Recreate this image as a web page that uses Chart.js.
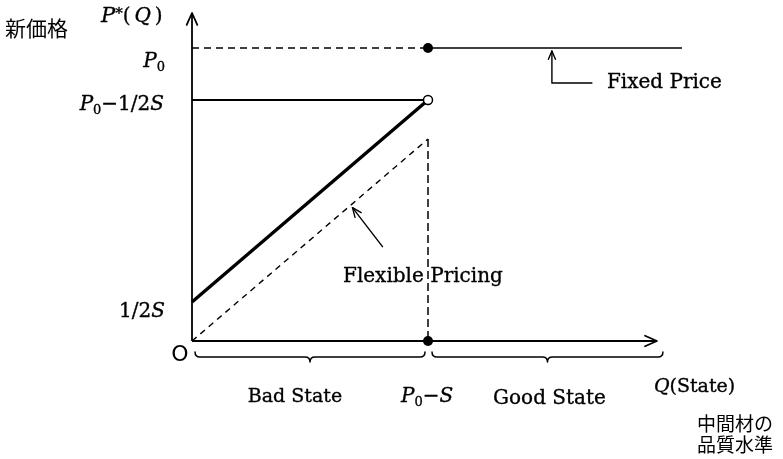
<!DOCTYPE html>
<html><head><meta charset="utf-8">
<script src="https://cdn.jsdelivr.net/npm/chart.js@4/dist/chart.umd.min.js"></script>
<style>html,body{margin:0;padding:0;background:#fff;overflow:hidden}#wrap{width:783px;height:459px;position:relative}</style>
</head><body><div id="wrap"><canvas id="c" width="783" height="459"></canvas></div>
<script>
// ---- values (abstract units) ----
const stateBreak = 10;                 // Q = P0 − S
const qAxisEnd = 19.7;                 // end of Q axis arrow
const fixedPriceEnd = 20.76;           // end of fixed price line
const priceAxisEnd = 16.4;             // end of P*(Q) axis arrow
const priceLevels = [14.65, 12.05, 1.95];          // P0, P0−1/2S, 1/2S
const tickLabelsY = ['P0', 'P0−1/2S', '1/2S'];
const flexiblePricing = [1.95, 12.05];             // thick line y at Q=0 and Q=P0−S
const flexibleLower = [0, 10.1];                   // dashed line y at Q=0 and Q=P0−S
const stateLabels = ['Bad State', 'Good State'];
const axisLabels = ['P*(Q)', 'Q(State)', '新価格', '中間材の', '品質水準'];
const notes = ['Fixed Price', 'Flexible Pricing'];

const P0 = priceLevels[0], P0h = priceLevels[1];

const black = '#000';
function ds(data, o) {
  return Object.assign({data, showLine: true, borderColor: black, backgroundColor: black,
    borderWidth: 1.5, pointRadius: 0, pointHoverRadius: 0, fill: false, tension: 0, clip: false}, o || {});
}

const datasets = [
  ds([{x: stateBreak, y: P0}, {x: stateBreak, y: 0}], {showLine: false, pointRadius: 5, pointBackgroundColor: black, pointBorderWidth: 0}),
  ds([{x: stateBreak, y: P0h}], {showLine: false, pointRadius: 4.5, pointBackgroundColor: '#fff', pointBorderColor: black, pointBorderWidth: 1.5}),
  ds([{x: 0, y: 0}, {x: 0, y: priceAxisEnd}], {borderWidth: 1.8}),
  ds([{x: 0, y: 0}, {x: qAxisEnd, y: 0}], {borderWidth: 1.8}),
  ds([{x: 0, y: P0}, {x: stateBreak, y: P0}], {borderDash: [7, 5], borderWidth: 1.5}),
  ds([{x: stateBreak, y: P0}, {x: fixedPriceEnd, y: P0}], {borderWidth: 1.5}),
  ds([{x: 0, y: P0h}, {x: stateBreak, y: P0h}], {borderWidth: 1.8}),
  ds([{x: 0, y: flexiblePricing[0]}, {x: stateBreak, y: flexiblePricing[1]}], {borderWidth: 3.4}),
  ds([{x: 0, y: flexibleLower[0]}, {x: stateBreak, y: flexibleLower[1]}], {borderDash: [6, 5], borderWidth: 1.4}),
  ds([{x: stateBreak, y: flexibleLower[1]}, {x: stateBreak, y: 0}], {borderDash: [8, 4], borderWidth: 1.5})
];

const SERIF = '"DejaVu Serif", "Liberation Serif", serif';
const CJK = '"Noto Sans CJK JP", sans-serif';

function rich(ctx, parts, x, y, align, noStroke) {
  // parts: [text, font, dy, extraSpacing]
  let w = 0;
  parts.forEach(p => { ctx.font = p[1]; w += ctx.measureText(p[0]).width + (p[3] || 0); });
  let cx = align === 'right' ? x - w : align === 'center' ? x - w / 2 : x;
  ctx.textBaseline = 'middle';
  ctx.textAlign = 'left';
  parts.forEach(p => {
    ctx.font = p[1];
    ctx.fillText(p[0], cx, y + (p[2] || 0));
    if (!noStroke) ctx.strokeText(p[0], cx, y + (p[2] || 0));
    cx += ctx.measureText(p[0]).width + (p[3] || 0);
  });
}

function vArrow(ctx, tx, ty, ang, len, spread) {
  ctx.beginPath();
  ctx.moveTo(tx - len * Math.cos(ang - spread), ty - len * Math.sin(ang - spread));
  ctx.lineTo(tx, ty);
  ctx.lineTo(tx - len * Math.cos(ang + spread), ty - len * Math.sin(ang + spread));
  ctx.stroke();
}

function brace(ctx, x1, x2, y) {
  const mid = (x1 + x2) / 2, r = 5;
  ctx.beginPath();
  ctx.moveTo(x1, y - 5);
  ctx.quadraticCurveTo(x1, y, x1 + r, y);
  ctx.lineTo(mid - r, y);
  ctx.quadraticCurveTo(mid, y, mid, y + 5);
  ctx.quadraticCurveTo(mid, y, mid + r, y);
  ctx.lineTo(x2 - r, y);
  ctx.quadraticCurveTo(x2, y, x2, y - 5);
  ctx.stroke();
}

const deco = {
  id: 'deco',
  afterDatasetsDraw(chart) {
    const ctx = chart.ctx, xs = chart.scales.x, ys = chart.scales.y;
    const px = v => xs.getPixelForValue(v), py = v => ys.getPixelForValue(v);
    const ox = px(0), oy = py(0), bx = px(stateBreak);
    ctx.save();
    ctx.strokeStyle = black; ctx.fillStyle = black; ctx.lineCap = 'round'; ctx.lineJoin = 'round';
    // axis arrowheads
    ctx.lineWidth = 1.8;
    vArrow(ctx, ox, py(priceAxisEnd), -Math.PI / 2, 13, 0.42);
    vArrow(ctx, px(qAxisEnd), oy, 0, 13, 0.42);
    // Fixed price pointer
    ctx.lineWidth = 1.4;
    const fx = px(15.25), fTip = py(P0) + 3, fy = py(P0) + 35;
    ctx.beginPath(); ctx.moveTo(fx, fTip); ctx.lineTo(fx, fy); ctx.lineTo(fx + 40, fy); ctx.stroke();
    vArrow(ctx, fx, fTip, -Math.PI / 2, 9, 0.4);
    // Flexible pricing pointer
    const tx = px(6.8), ty = py((flexibleLower[1] / stateBreak) * 6.8) + 4;
    const sx = tx + 30, sy = ty + 39;
    ctx.beginPath(); ctx.moveTo(sx, sy); ctx.lineTo(tx, ty); ctx.stroke();
    vArrow(ctx, tx, ty, Math.atan2(ty - sy, tx - sx), 10, 0.4);
    // braces
    ctx.lineWidth = 1.5;
    brace(ctx, ox + 3, bx - 3, oy + 16);
    brace(ctx, bx + 4, px(qAxisEnd) + 6, oy + 16);
    // texts
    ctx.fillStyle = black; ctx.lineWidth = 0.35;
    const it = s => 'italic ' + s + 'px ' + SERIF, rm = s => s + 'px ' + SERIF;
    rich(ctx, [[axisLabels[2], '21px ' + CJK]], 5, py(P0) - 20, 'left', true);
    rich(ctx, [['P', it(21)], ['*', rm(15), -3, 0], ['(', rm(20), 0, 4], ['Q', it(20), 0, 4], [')', rm(20)]], 101, 17, 'left');
    rich(ctx, [['P', it(20)], ['0', rm(13), 6]], ox - 27, py(P0) + 14, 'right');
    rich(ctx, [['P', it(20)], ['0', rm(13), 6], ['−1/2', rm(20)], ['S', it(20)]], ox - 28, py(P0h) + 5, 'right');
    rich(ctx, [['1/2', rm(20)], ['S', it(20)]], ox - 27, py(flexiblePricing[0]) + 10, 'right');
    rich(ctx, [['O', '22px "DejaVu Sans", sans-serif']], ox - 12, oy + 14, 'center', true);
    rich(ctx, [[stateLabels[0], rm(19)]], px(stateBreak / 2) - 15, oy + 56, 'center');
    rich(ctx, [['P', it(20)], ['0', rm(13), 6], ['−', rm(20)], ['S', it(20)]], bx - 27, oy + 56, 'left');
    rich(ctx, [[stateLabels[1], rm(20)]], px((stateBreak + qAxisEnd) / 2) + 7, oy + 58, 'center');
    rich(ctx, [['Q', it(19)], ['(State)', rm(19)]], px(qAxisEnd) - 3, oy + 46, 'left');
    rich(ctx, [[axisLabels[3], '19px ' + CJK]], 697, oy + 83, 'left', true);
    rich(ctx, [[axisLabels[4], '19px ' + CJK]], 697, oy + 104, 'left', true);
    rich(ctx, [[notes[0], rm(20)]], fx + 55, fy, 'left');
    rich(ctx, [[notes[1], rm(20)]], bx - 85, py(3.2), 'left');
    ctx.restore();
  }
};

new Chart(document.getElementById('c'), {
  type: 'scatter',
  data: {datasets},
  options: {
    responsive: false, animation: false, devicePixelRatio: 1,
    layout: {padding: 0, autoPadding: false},
    plugins: {legend: {display: false}, tooltip: {enabled: false}},
    events: [],
    scales: {
      x: {type: 'linear', min: -8.1356, max: 25.042, display: false},
      y: {type: 'linear', min: -5.9, max: 17.05, display: false}
    }
  },
  plugins: [deco]
});
</script></body></html>
